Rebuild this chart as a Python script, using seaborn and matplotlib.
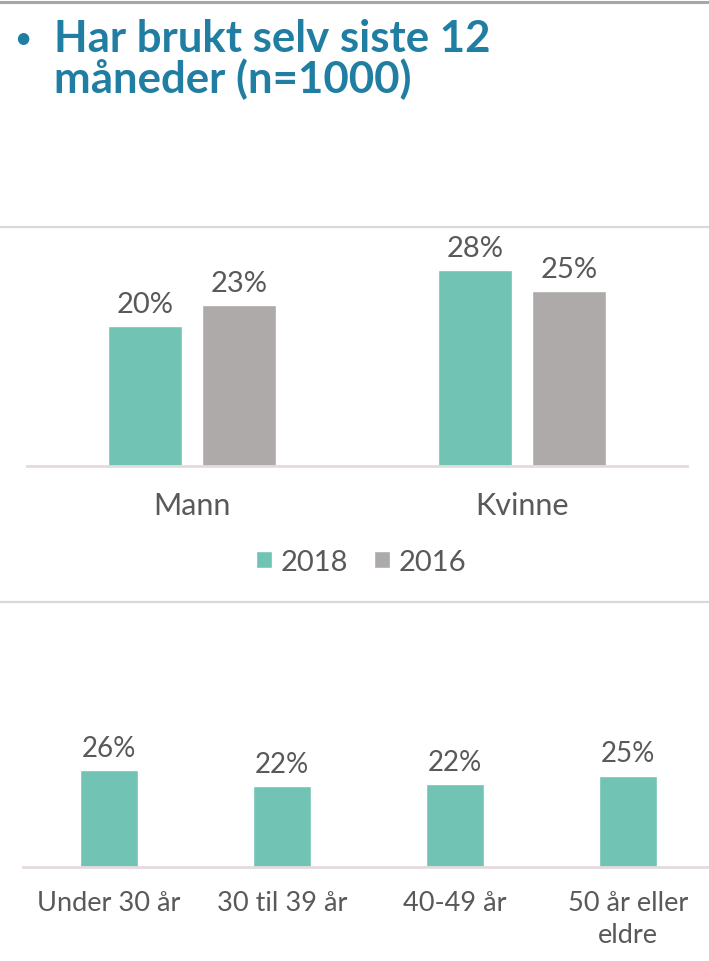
import matplotlib
matplotlib.use("Agg")
import matplotlib.pyplot as plt
import seaborn as sns
import pandas as pd
from matplotlib.lines import Line2D

# ---- data ----
gender_categories = ["Mann", "Kvinne"]
years = ["2018", "2016"]
values_2018 = [20, 28]
values_2016 = [23, 25]

age_categories = ["Under 30 år", "30 til 39 år", "40-49 år", "50 år eller\neldre"]
age_values = [26.1, 21.8, 22.3, 24.7]

title_lines = ["Har brukt selv siste 12", "måneder (n=1000)"]

# ---- style ----
sns.set_theme(style="white")
plt.rcParams["font.family"] = ["Lato", "DejaVu Sans"]

TEAL = "#71C3B3"
GREY = "#AEAAAA"
TXT = "#595959"
TITLE_C = "#1F7EA1"

W, H = 709, 962
fig = plt.figure(figsize=(W / 100, H / 100), dpi=100)


def rect(l, r, b, t):
    return [l / W, 1 - b / H, (r - l) / W, (b - t) / H]


# separator lines
for y, c, lw in [(3, "#A6A6A6", 2.2), (228, "#D9D9D9", 1.6), (603, "#D9D9D9", 1.6)]:
    fig.add_artist(Line2D([0, 1], [1 - y / H, 1 - y / H], color=c, lw=lw,
                          transform=fig.transFigure))

fig.text(23 / W, 1 - 39 / H, "•", ha="center", va="center", fontsize=19,
         fontweight="bold", color=TITLE_C)
fig.text(54 / W, 1 - 52 / H, title_lines[0], ha="left", va="baseline",
         fontsize=31.5, fontweight="bold", color=TITLE_C)
fig.text(54 / W, 1 - 93 / H, title_lines[1], ha="left", va="baseline",
         fontsize=31.5, fontweight="bold", color=TITLE_C)

# ---- top chart ----
df_top = pd.DataFrame({
    "kategori": gender_categories * 2,
    "år": [years[0]] * len(gender_categories) + [years[1]] * len(gender_categories),
    "verdi": values_2018 + values_2016,
})
ax1 = fig.add_axes(rect(27, 687, 466.7, 228))
sns.barplot(data=df_top, x="kategori", y="verdi", hue="år", hue_order=years,
            palette=[TEAL, GREY], width=0.57, gap=0.21, saturation=1,
            ax=ax1, legend=True)
ax1.set_ylim(0, (466.7 - 228) / 7.0)
for cont in ax1.containers:
    ax1.bar_label(cont, fmt="%.0f%%", padding=6, fontsize=21, color=TXT)

# ---- bottom chart ----
df_bot = pd.DataFrame({"kategori": age_categories, "verdi": age_values})
ax2 = fig.add_axes(rect(22.5, 714.5, 867.7, 720))
sns.barplot(data=df_bot, x="kategori", y="verdi", color=TEAL, width=0.335,
            saturation=1, ax=ax2)
ax2.set_ylim(0, (867.7 - 720) / 3.69)
for cont in ax2.containers:
    ax2.bar_label(cont, fmt="%.0f%%", padding=7, fontsize=20, color=TXT)

for ax, fs, pad in [(ax1, 22, 18), (ax2, 19.5, 17)]:
    ax.set_xlabel("")
    ax.set_ylabel("")
    ax.set_yticks([])
    for s in ["top", "right", "left"]:
        ax.spines[s].set_visible(False)
    ax.spines["bottom"].set_color("#E3DADE")
    ax.spines["bottom"].set_linewidth(2)
    ax.tick_params(axis="x", length=0, labelsize=fs, labelcolor=TXT, pad=pad)
    ax.set_facecolor("none")

for lbl in ax2.get_xticklabels():
    lbl.set_linespacing(1.33)

# legend
handles, labels = ax1.get_legend_handles_labels()
ax1.legend_.remove()
fig.legend(handles, labels, loc="center", bbox_to_anchor=(361 / W, 1 - 563 / H),
           ncol=2, frameon=False, fontsize=21, labelcolor=TXT,
           handlelength=0.55, handleheight=0.55, handletextpad=0.3,
           columnspacing=0.9)

fig.savefig("out.png", dpi=100, facecolor="white")
